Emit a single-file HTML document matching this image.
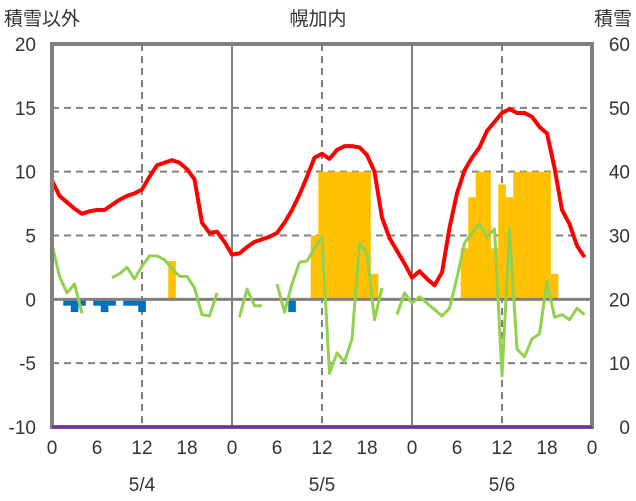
<!DOCTYPE html>
<html><head><meta charset="utf-8"><style>
body{margin:0;background:#fff;}
svg{display:block;font-family:"Liberation Sans","Noto Sans CJK JP",sans-serif;}
</style></head><body>
<svg id="c" width="636" height="501"></svg>
<script>
const hours=[...Array(72).keys()];
const temp=[9.3,8.1,7.6,7.1,6.7,6.9,7.0,7.0,7.4,7.8,8.1,8.3,8.6,9.6,10.5,10.7,10.9,10.7,10.2,9.4,6.0,5.2,5.3,4.5,
3.5,3.6,4.1,4.5,4.7,4.9,5.2,6.0,7.0,8.2,9.6,11.1,11.4,11.0,11.7,12.0,12.0,11.9,11.3,10.0,6.4,4.8,3.8,2.8,
1.7,2.2,1.6,1.1,2.1,5.6,8.3,10.1,11.1,11.9,13.2,13.9,14.6,14.9,14.6,14.6,14.3,13.5,13.0,10.3,7.0,5.9,4.2,3.3];
const green=[4.3,1.8,0.5,1.2,-1.1,null,null,null,1.7,2.0,2.5,1.6,2.6,3.4,3.4,3.1,2.4,1.8,1.8,0.9,-1.2,-1.3,0.5,null,
null,-1.4,0.8,-0.5,-0.5,null,1.2,-1.0,1.2,2.9,3.0,4.0,4.9,-5.8,-4.2,-4.9,-3.1,4.4,3.6,-1.6,0.9,null,-1.2,0.5,
-0.3,0.2,-0.3,-0.8,-1.3,-0.7,1.7,4.4,5.2,5.9,4.9,5.5,-6.0,5.5,-3.9,-4.5,-3.1,-2.7,1.4,-1.4,-1.2,-1.6,-0.7,-1.2];
const snowHours=[16,35,36,37,38,39,40,41,42,43,55,56,57,58,59,60,61,62,63,64,65,66,67];
const snowVals=[3,5,10,10,10,10,10,10,10,2,4,8,10,10,4,9,8,10,10,10,10,10,2];
const precipHours=[2,3,4,6,7,8,10,11,12,32];
const precipVals=[-0.5,-1,-0.5,-0.5,-1,-0.5,-0.5,-0.5,-1,-1];
const leftTicks=[20,15,10,5,0,-5,-10];
const rightTicks=[60,50,40,30,20,10,0];
const xTickLabels=["0","6","12","18","0","6","12","18","0","6","12","18","0"];
const dateLabels=["5/4","5/5","5/6"];

const L=52,R=592,T=44,B=427;
const x=h=>L+(R-L)*h/72;
const y=v=>T+(20-v)*(B-T)/30;
const svg=document.getElementById('c');
const NS='http://www.w3.org/2000/svg';
function mk(tag,attrs,parent){const e=document.createElementNS(NS,tag);for(const k in attrs)e.setAttribute(k,attrs[k]);(parent||svg).appendChild(e);return e;}

// gridlines
[15,10,5,-5].forEach(v=>{const g=mk('line',{x1:L,x2:R,y1:y(v),y2:y(v),stroke:'#808080','stroke-width':2,'stroke-dasharray':'7,5'});

});
[12,36,60].forEach(h=>{const g=mk('line',{x1:x(h),x2:x(h),y1:T,y2:B,stroke:'#808080','stroke-width':2,'stroke-dasharray':'7,5'});

});
[24,48].forEach(h=>{const g=mk('line',{x1:x(h),x2:x(h),y1:T,y2:B,stroke:'#808080','stroke-width':2});

});

// snow bars
snowHours.forEach((h,i)=>{const r=mk('rect',{x:x(h)-3.75,width:7.6,y:y(snowVals[i]),height:y(0)-y(snowVals[i]),fill:'#ffc000'});

});
// precip bars
precipHours.forEach((h,i)=>{const r=mk('rect',{x:x(h)-3.75,width:7.6,y:y(0),height:y(precipVals[i])-y(0),fill:'#0070c0'});

});

// zero line
const z=mk('line',{x1:L,x2:R,y1:y(0),y2:y(0),stroke:'#808080','stroke-width':3});



// green line with gaps
let d='',pen=false;
green.forEach((v,h)=>{if(v===null){pen=false;return;}d+=(pen?'L':'M')+x(h)+','+y(v)+' ';pen=true;});
const gl=mk('path',{d:d,fill:'none',stroke:'#92d050','stroke-width':3,'stroke-linejoin':'round'});



// temp line
const tl=mk('path',{d:temp.map((v,h)=>(h?'L':'M')+x(h)+','+y(v)).join(' '),fill:'none',stroke:'#ff0000','stroke-width':4,'stroke-linejoin':'round'});



// frame
const fr=mk('rect',{x:L,y:T,width:R-L,height:B-T,fill:'none',stroke:'#808080','stroke-width':4});


const pl=mk('line',{x1:L,x2:R,y1:B,y2:B,stroke:'#7030a0','stroke-width':3});



// ticks
leftTicks.forEach(v=>{const t=mk('text',{x:36,y:y(v)+7,'text-anchor':'end','font-size':19,fill:'#333'});t.textContent=v;

});
rightTicks.forEach((v,i)=>{const t=mk('text',{x:630,y:y(leftTicks[i])+7,'text-anchor':'end','font-size':19,fill:'#333'});t.textContent=v;

});
xTickLabels.forEach((s,i)=>{const t=mk('text',{x:x(i*6),y:454,'text-anchor':'middle','font-size':19,fill:'#333'});t.textContent=s;

});
dateLabels.forEach((s,i)=>{const t=mk('text',{x:x(12+24*i),y:491,'text-anchor':'middle','font-size':19,fill:'#333'});t.textContent=s;

});
[['積雪以外',4,'start','left-axis-title'],['幌加内',318,'middle','chart-title'],['積雪',632,'end','right-axis-title']].forEach(a=>{
const t=mk('text',{x:a[1],y:25,'text-anchor':a[2],'font-size':19,fill:'#333'});t.textContent=a[0];

});
</script>
</body></html>
